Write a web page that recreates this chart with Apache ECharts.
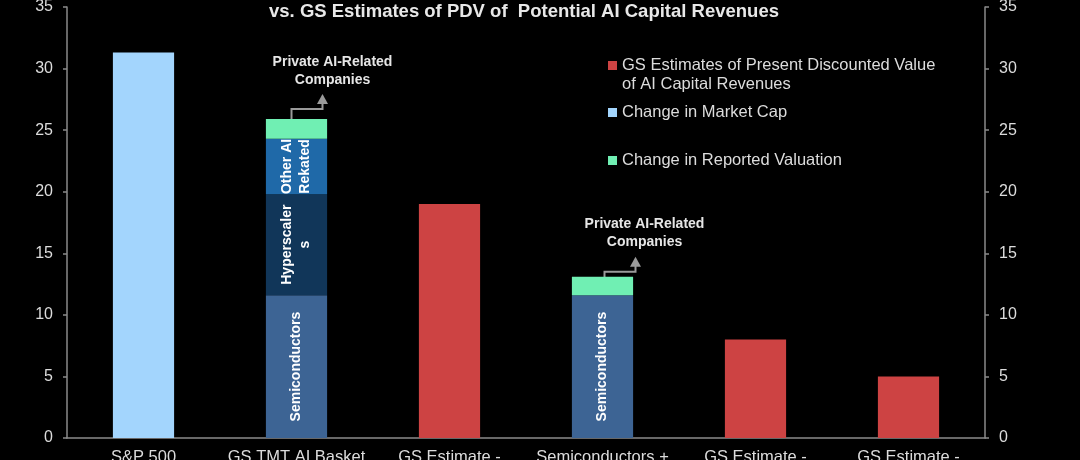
<!DOCTYPE html>
<html>
<head>
<meta charset="UTF-8">
<script src="https://cdn.jsdelivr.net/npm/echarts@6/dist/echarts.min.js"></script>
<style>
  body { margin: 0; background: #000; }
  #chart { width: 1080px; height: 460px; }
</style>
</head>
<body>
<div id="chart"></div>
<script>
// categories (only the first line of each label is visible in the picture)
const categories = ['S&P 500', 'GS TMT AI Basket', 'GS Estimate -', 'Semiconductors +', 'GS Estimate -', 'GS Estimate -']

// values, $tn
const marketCap = [31.3, '-', '-', '-', '-', '-']
const semiconductors = ['-', 11.6, '-', 11.6, '-', '-']
const hyperscalers = ['-', 8.2, '-', '-', '-', '-']
const otherAI = ['-', 4.5, '-', '-', '-', '-']
const privateAI = ['-', 1.6, '-', 1.5, '-', '-']
const gsEstimates = ['-', '-', 19.0, '-', 8.0, 5.0]

// categories that carry the "Private AI-Related Companies" callout
const calloutIdx = [1, 3]

const FONT = 'Liberation Sans, Arial, sans-serif'
const AXIS_COLOR = '#8a8a8a'
const TEXT_COLOR = '#dcdcdc'

const COLORS = {
  marketCap: '#a3d5fd',
  semis: '#3d6494',
  hyper: '#113659',
  other: '#1f69a8',
  private: '#70efb3',
  gs: '#cd4343'
}

// callout arrow geometry, px offsets from the bar top centre
const CALLOUT_STYLE = {
  1: { x0: -5, x1: 26, elbow: -10, textDx: 36, textDy: -48 },
  3: { x0: 2, x1: 33, elbow: -5, textDx: 42, textDy: -44 }
}

const innerLabel = text => ({
  show: true,
  position: 'inside',
  rotate: 90,
  formatter: text,
  color: '#fff',
  fontFamily: FONT,
  fontWeight: 'bold',
  fontSize: 14,
  lineHeight: 18
})

const chart = echarts.init(document.getElementById('chart'))

const yAxisBase = {
  type: 'value',
  min: 0,
  max: 35,
  interval: 5,
  splitLine: { show: false },
  axisLine: { show: true, lineStyle: { color: AXIS_COLOR, width: 1.5 } },
  axisTick: { show: true, length: 4, lineStyle: { color: AXIS_COLOR, width: 1.5 } },
  axisLabel: { color: TEXT_COLOR, fontFamily: FONT, fontSize: 16, margin: 14 }
}

const legendBase = {
  orient: 'vertical',
  left: 608,
  itemWidth: 9,
  itemHeight: 9,
  icon: 'rect',
  padding: 0,
  textStyle: { color: TEXT_COLOR, fontFamily: FONT, fontSize: 16.5 },
  selectedMode: false
}

chart.setOption({
  backgroundColor: '#000',
  animation: false,
  title: {
    text: 'vs. GS Estimates of PDV of  Potential AI Capital Revenues',
    left: 519,
    textAlign: 'center',
    top: -3,
    textStyle: { color: '#e8e8e8', fontFamily: FONT, fontWeight: 'bold', fontSize: 18.5 }
  },
  legend: [
    { ...legendBase, top: 57, data: ['GS Estimates of Present Discounted Value of AI Capital Revenues'],
      formatter: () => 'GS Estimates of Present Discounted Value' },
    { ...legendBase, top: 104, data: ['Change in Market Cap'] },
    { ...legendBase, top: 152, data: ['Change in Reported Valuation'] }
  ],
  grid: { left: 67, right: 95, top: 7, bottom: 22, containLabel: false, outerBoundsMode: 'none' },
  xAxis: {
    type: 'category',
    data: categories,
    axisLine: { lineStyle: { color: AXIS_COLOR, width: 1.5 } },
    axisTick: { show: false },
    axisLabel: { color: TEXT_COLOR, fontFamily: FONT, fontSize: 16.5, margin: 11, interval: 0 }
  },
  yAxis: [
    { ...yAxisBase, position: 'left' },
    { ...yAxisBase, position: 'right' }
  ],
  series: [
    { name: 'Change in Market Cap', type: 'bar', stack: 'a', barWidth: '40%',
      itemStyle: { color: COLORS.marketCap }, data: marketCap },
    { name: 'Semiconductors', type: 'bar', stack: 'a', barWidth: '40%',
      itemStyle: { color: COLORS.semis }, label: innerLabel('Semiconductors'), data: semiconductors },
    { name: 'Hyperscalers', type: 'bar', stack: 'a', barWidth: '40%',
      itemStyle: { color: COLORS.hyper }, label: innerLabel('Hyperscaler\ns'), data: hyperscalers },
    { name: 'Other AI Related', type: 'bar', stack: 'a', barWidth: '40%',
      itemStyle: { color: COLORS.other }, label: innerLabel('Other AI\nRekated'), data: otherAI },
    { name: 'Change in Reported Valuation', type: 'bar', stack: 'a', barWidth: '40%',
      itemStyle: { color: COLORS.private }, data: privateAI },
    { name: 'GS Estimates of Present Discounted Value of AI Capital Revenues', type: 'bar', stack: 'a', barWidth: '40%',
      itemStyle: { color: COLORS.gs }, data: gsEstimates }
  ]
})

// callouts: placed from the stacked totals through the chart's own scales
function stackTotal(i) {
  return [marketCap, semiconductors, hyperscalers, otherAI, privateAI, gsEstimates]
    .reduce((s, arr) => s + (typeof arr[i] === 'number' ? arr[i] : 0), 0)
}

const graphics = [
  {
    type: 'text',
    left: 622,
    top: 76,
    style: { text: 'of AI Capital Revenues', fill: TEXT_COLOR, font: '16.5px ' + FONT }
  }
]

calloutIdx.forEach(i => {
  const [cx, top] = chart.convertToPixel({ xAxisIndex: 0, yAxisIndex: 0 }, [i, stackTotal(i)])
  const c = CALLOUT_STYLE[i]
  const x0 = cx + c.x0
  const x1 = cx + c.x1
  const elbow = top + c.elbow
  graphics.push({
    type: 'polyline',
    shape: { points: [[x0, top + 8], [x0, elbow], [x1, elbow], [x1, elbow - 6]] },
    style: { stroke: '#9a9a9a', lineWidth: 2, fill: null }
  })
  graphics.push({
    type: 'polygon',
    shape: { points: [[x1 - 5.5, elbow - 5], [x1 + 5.5, elbow - 5], [x1, elbow - 15]] },
    style: { fill: '#9a9a9a' }
  })
  graphics.push({
    type: 'text',
    x: cx + c.textDx,
    y: top + c.textDy,
    style: {
      text: 'Private AI-Related\nCompanies',
      fill: '#e6e6e6',
      font: 'bold 14px ' + FONT,
      lineHeight: 18,
      align: 'center',
      verticalAlign: 'middle'
    }
  })
})

chart.setOption({ graphic: graphics })
</script>
</body>
</html>
